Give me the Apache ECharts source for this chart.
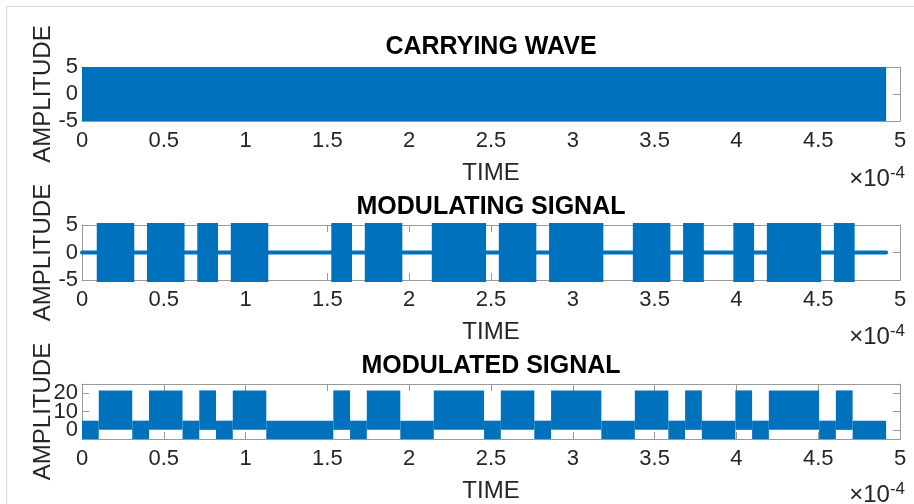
<!DOCTYPE html>
<html>
<head>
<meta charset="utf-8">
<script src="https://cdn.jsdelivr.net/npm/echarts@6/dist/echarts.min.js"></script>
<style>
html,body{margin:0;padding:0;background:#fff;}
#chart{width:914px;height:504px;}
</style>
</head>
<body>
<div id="chart"></div>
<script>
// ---- data ----
const TITLES = ['CARRYING WAVE', 'MODULATING SIGNAL', 'MODULATED SIGNAL'];
const X_NAME = 'TIME';
const Y_NAME = 'AMPLITUDE';
const X_TICKS = [0, 0.5, 1, 1.5, 2, 2.5, 3, 3.5, 4, 4.5, 5];   // ×10^-4
const Y_TICKS_CARRIER = [-5, 0, 5];
const Y_TICKS_MODULATING = [-5, 0, 5];
const Y_TICKS_MODULATED = [0, 10, 20];
const Y_RANGE_CARRIER = [-5, 5];
const Y_RANGE_MODULATING = [-5, 5];
const Y_RANGE_MODULATED = [-5, 25];
const BITS = [0,1,1,0,1,1,0,1,0,1,1,0,0,0,0,1,0,1,1,0,0,1,1,1,0,1,1,0,1,1,1,0,0,1,1,0,1,0,0,1,0,1,1,1,0,1,0,0];
const BIT_DURATION = 0.1024;        // in units of 1e-4 s
const CARRIER_AMPLITUDE = 5;
const MODULATING_AMPLITUDE = 5;
const MODULATED_HIGH = [0, 21.5];   // envelope range when bit = 1
const MODULATED_LOW = [-5, 5];      // envelope range when bit = 0

// ---- build series data (runs of equal bits) ----
const T_END = BITS.length * BIT_DURATION;
const runs = [];
BITS.forEach((b, i) => {
  const last = runs[runs.length - 1];
  if (last && last.bit === b) last.end = i + 1;
  else runs.push({ bit: b, start: i, end: i + 1 });
});
const carrierBand = [[0, T_END, -CARRIER_AMPLITUDE, CARRIER_AMPLITUDE]];
const modulatingBlocks = runs.filter(r => r.bit).map(r => [r.start * BIT_DURATION, r.end * BIT_DURATION, -MODULATING_AMPLITUDE, MODULATING_AMPLITUDE]);
const modulatingZero = [[0, 0], [T_END, 0]];
const modulatedBands = runs.map(r => {
  const e = r.bit ? MODULATED_HIGH : MODULATED_LOW;
  return [r.start * BIT_DURATION, r.end * BIT_DURATION, e[0], e[1]];
});

const BLUE = '#0072BD';
const TXT = '#262626';
const AX = '#9a9a9a';
const FONT = '"Liberation Sans", Arial, Helvetica, sans-serif';

const grids = [
  { left: 82, right: 14, top: 67, height: 54 },
  { left: 82, right: 14, top: 225, height: 55 },
  { left: 82, right: 14, top: 384, height: 55 }
];
const yRanges = [Y_RANGE_CARRIER, Y_RANGE_MODULATING, Y_RANGE_MODULATED];
const yTicks = [Y_TICKS_CARRIER, Y_TICKS_MODULATING, Y_TICKS_MODULATED];

const xAxes = [], yAxes = [];
const yLabelStyle = { color: TXT, fontSize: 22, fontFamily: FONT, margin: 4, hideOverlap: false, showMinLabel: true, showMaxLabel: true };
grids.forEach((g, i) => {
  xAxes.push({
    type: 'value', gridIndex: i, min: 0, max: 5, position: 'bottom',
    axisLine: { show: true, onZero: false, lineStyle: { color: AX, width: 1 } },
    axisTick: { show: true, inside: true, length: 7, customValues: X_TICKS, lineStyle: { color: AX } },
    axisLabel: { show: true, customValues: X_TICKS, hideOverlap: false, color: TXT, fontSize: 22, fontFamily: FONT, margin: 9 },
    splitLine: { show: false },
    name: X_NAME, nameLocation: 'middle', nameGap: 40,
    nameTextStyle: { color: TXT, fontSize: 24, fontFamily: FONT }
  });
  xAxes.push({
    type: 'value', gridIndex: i, min: 0, max: 5, position: 'top',
    axisLine: { show: true, onZero: false, lineStyle: { color: AX, width: 1 } },
    axisTick: { show: true, inside: true, length: 7, customValues: X_TICKS, lineStyle: { color: AX } },
    axisLabel: { show: false },
    splitLine: { show: false }
  });
  // Tick labels: alternate labels split over two left axes so none is dropped for overlap
  const ticks = yTicks[i];
  const setA = ticks.filter((v, k) => k % 2 === 0);
  const setB = ticks.filter((v, k) => k % 2 === 1);
  yAxes.push({
    type: 'value', gridIndex: i, min: yRanges[i][0], max: yRanges[i][1], position: 'left',
    axisLine: { show: true, onZero: false, lineStyle: { color: AX, width: 1 } },
    axisTick: { show: true, inside: true, length: 7, customValues: ticks, lineStyle: { color: AX } },
    axisLabel: Object.assign({ show: true, customValues: setA }, yLabelStyle),
    splitLine: { show: false }
  });
  yAxes.push({
    type: 'value', gridIndex: i, min: yRanges[i][0], max: yRanges[i][1], position: 'left',
    axisLine: { show: false, onZero: false },
    axisTick: { show: false },
    axisLabel: Object.assign({ show: true, customValues: setB }, yLabelStyle),
    splitLine: { show: false }
  });
  // axis carrying the name only
  yAxes.push({
    type: 'value', gridIndex: i, min: yRanges[i][0], max: yRanges[i][1], position: 'left', offset: -2,
    axisLine: { show: false, onZero: false },
    axisTick: { show: false },
    axisLabel: { show: false },
    splitLine: { show: false },
    name: Y_NAME, nameLocation: 'middle', nameGap: 29, nameRotate: 90,
    nameTextStyle: { color: TXT, fontSize: 24, fontFamily: FONT }
  });
  yAxes.push({
    type: 'value', gridIndex: i, min: yRanges[i][0], max: yRanges[i][1], position: 'right',
    axisLine: { show: true, onZero: false, lineStyle: { color: AX, width: 1 } },
    axisTick: { show: true, inside: true, length: 7, customValues: ticks, lineStyle: { color: AX } },
    axisLabel: { show: false },
    splitLine: { show: false }
  });
});

function rectRenderer(strokeW) {
  return function (params, api) {
    const p0 = api.coord([api.value(0), api.value(3)]);
    const p1 = api.coord([api.value(1), api.value(2)]);
    return {
      type: 'rect',
      shape: { x: p0[0], y: p0[1], width: p1[0] - p0[0], height: p1[1] - p0[1] },
      style: { fill: BLUE, stroke: strokeW ? BLUE : null, lineWidth: strokeW }
    };
  };
}

const series = [
  { type: 'custom', xAxisIndex: 0, yAxisIndex: 0, data: carrierBand, renderItem: rectRenderer(0), encode: { x: [0, 1], y: [2, 3] }, clip: false, silent: true },
  { type: 'line', xAxisIndex: 2, yAxisIndex: 4, data: modulatingZero, showSymbol: false, lineStyle: { color: BLUE, width: 4, cap: 'round' }, silent: true },
  { type: 'custom', xAxisIndex: 2, yAxisIndex: 4, data: modulatingBlocks, renderItem: rectRenderer(4), encode: { x: [0, 1], y: [2, 3] }, clip: false, silent: true },
  { type: 'custom', xAxisIndex: 4, yAxisIndex: 8, data: modulatedBands, renderItem: rectRenderer(0), encode: { x: [0, 1], y: [2, 3] }, clip: false, silent: true }
];

const titleY = [47, 207, 366];
const expY = [179, 337, 495];
const graphic = [
  { type: 'rect', shape: { x: 6.5, y: 6.5, width: 1000, height: 1000 }, style: { fill: 'none', stroke: '#d9d9d9', lineWidth: 1 }, silent: true, z: -10 }
];
TITLES.forEach((t, i) => {
  graphic.push({ type: 'text', x: 491, y: titleY[i], style: { text: t, fill: '#000', font: 'bold 25px ' + FONT, align: 'center', verticalAlign: 'middle' }, silent: true });
  graphic.push({ type: 'text', x: 905, y: expY[i], style: {
    text: '{a|×10}{b|-4}', align: 'right', verticalAlign: 'middle',
    rich: {
      a: { fontSize: 24, fontFamily: FONT, fill: TXT, color: TXT },
      b: { fontSize: 17, fontFamily: FONT, fill: TXT, color: TXT, verticalAlign: 'top', padding: [0, 0, 12, 0] }
    }
  }, silent: true });
});

const chart = echarts.init(document.getElementById('chart'), null, { renderer: 'canvas' });
chart.setOption({
  animation: false,
  backgroundColor: '#fff',
  grid: grids,
  xAxis: xAxes,
  yAxis: yAxes,
  series: series,
  graphic: graphic
});
</script>
</body>
</html>
